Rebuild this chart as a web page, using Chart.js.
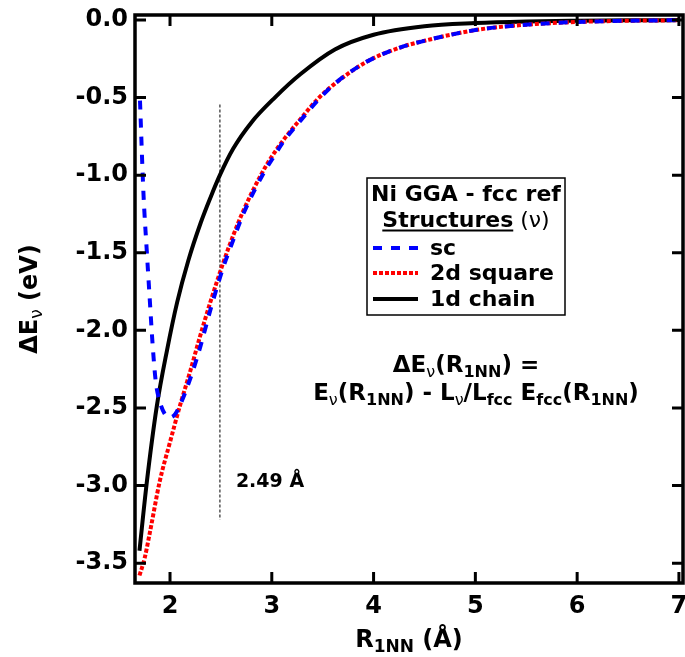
<!DOCTYPE html>
<html>
<head>
<meta charset="utf-8">
<script src="https://cdn.jsdelivr.net/npm/chart.js@4"></script>
<style>
  html, body { margin: 0; padding: 0; background: #fff; }
  canvas { display: block; }
</style>
</head>
<body>
<canvas id="myChart" width="685" height="657"></canvas>
<script>
// nearest-neighbour distance (Å) and energy difference (eV) per structure
const rSc = [1.705, 1.74, 1.77, 1.80, 1.83, 1.86, 1.90, 1.95, 2.00, 2.05, 2.10, 2.21, 2.30, 2.40, 2.52, 2.62, 2.72, 2.90, 3.01, 3.13, 3.28, 3.45, 3.62, 3.93, 4.25, 4.59, 5.0, 5.24, 5.6, 6.0, 6.5, 7.0];
const eSc = [-0.52, -1.13, -1.47, -1.79, -2.10, -2.33, -2.46, -2.54, -2.56, -2.54, -2.48, -2.29, -2.10, -1.86, -1.60, -1.42, -1.25, -1.01, -0.89, -0.77, -0.65, -0.52, -0.41, -0.27, -0.18, -0.12, -0.065, -0.045, -0.026, -0.013, -0.005, -0.002];

const rSquare = [1.70, 1.75, 1.80, 1.90, 2.00, 2.10, 2.20, 2.29, 2.40, 2.52, 2.62, 2.72, 2.90, 3.01, 3.13, 3.28, 3.45, 3.62, 3.93, 4.25, 4.59, 5.0, 5.24, 5.6, 6.0, 6.5, 7.0];
const eSquare = [-3.58, -3.47, -3.31, -2.97, -2.72, -2.48, -2.26, -2.05, -1.81, -1.57, -1.39, -1.23, -0.99, -0.87, -0.76, -0.64, -0.51, -0.41, -0.27, -0.18, -0.12, -0.065, -0.045, -0.026, -0.013, -0.005, -0.002];

const rChain = [1.70, 1.77, 1.87, 1.97, 2.07, 2.18, 2.30, 2.40, 2.49, 2.62, 2.80, 3.03, 3.28, 3.62, 4.0, 4.5, 5.0, 5.5, 6.0, 6.5, 7.0];
const eChain = [-3.42, -2.99, -2.49, -2.13, -1.82, -1.55, -1.31, -1.14, -1.00, -0.83, -0.66, -0.50, -0.35, -0.19, -0.095, -0.04, -0.02, -0.01, -0.005, -0.002, -0.001];

// fcc equilibrium marker
const markR = [2.49, 2.49];
const markE = [-0.545, -3.22];

const xTicks = [2, 3, 4, 5, 6, 7];
const yTicks = [0, -0.5, -1.0, -1.5, -2.0, -2.5, -3.0, -3.5];

const FONT = '"DejaVu Sans", sans-serif';
const font = (size, weight) => (weight || 'bold') + ' ' + size + 'px ' + FONT;

const pts = (xs, ys) => xs.map((x, i) => ({ x: x, y: ys[i] }));

// text run with sub/superscripts; returns its width
function richText(ctx, parts, x, y, align) {
  let w = 0;
  parts.forEach(p => { ctx.font = font(p.size, p.weight); w += ctx.measureText(p.t).width; });
  let cx = align === 'center' ? x - w / 2 : x;
  ctx.textAlign = 'left';
  ctx.textBaseline = 'alphabetic';
  ctx.fillStyle = '#000';
  parts.forEach(p => {
    ctx.font = font(p.size, p.weight);
    ctx.fillText(p.t, cx, y + (p.dy || 0));
    cx += ctx.measureText(p.t).width;
  });
  return w;
}

const B = (t, s) => ({ t: t, size: s || 23 });
const S = (t, s) => ({ t: t, size: s || 16, dy: 5 });
const SN = (t, s) => ({ t: t, size: s || 16, dy: 5, weight: 'normal' });

const legendItems = [
  { label: 'sc', color: '#0000ff', dash: [9, 9], y: 248, base: 255 },
  { label: '2d square', color: '#ff0000', dash: [4, 2], y: 273, base: 280 },
  { label: '1d chain', color: '#000000', dash: [], y: 299, base: 306 }
];

const decorations = {
  id: 'decorations',
  afterDatasetsDraw(chart) {
    const ctx = chart.ctx;
    const a = chart.chartArea;
    const sx = chart.scales.x, sy = chart.scales.y;
    ctx.save();

    // frame
    ctx.strokeStyle = '#000';
    ctx.lineWidth = 3.5;
    ctx.strokeRect(a.left, a.top, a.right - a.left, a.bottom - a.top);

    // inward ticks on all four sides
    ctx.lineWidth = 3;
    const tl = 11;
    ctx.beginPath();
    xTicks.forEach(v => {
      const px = sx.getPixelForValue(v);
      ctx.moveTo(px, a.bottom); ctx.lineTo(px, a.bottom - tl);
      ctx.moveTo(px, a.top); ctx.lineTo(px, a.top + tl);
    });
    yTicks.forEach(v => {
      const py = sy.getPixelForValue(v);
      ctx.moveTo(a.left, py); ctx.lineTo(a.left + tl, py);
      ctx.moveTo(a.right, py); ctx.lineTo(a.right - tl, py);
    });
    ctx.stroke();

    // legend box
    ctx.lineWidth = 1.5;
    ctx.strokeRect(367, 178, 198, 137);
    richText(ctx, [B('Ni GGA - fcc ref', 22)], 466, 201, 'center');
    ctx.font = font(22);
    const wS = ctx.measureText('Structures').width;
    const wAll = richText(ctx, [B('Structures', 22), { t: ' (ν)', size: 22, weight: 'normal' }], 466, 227, 'center');
    const ux = 466 - wAll / 2;
    ctx.lineWidth = 2;
    ctx.beginPath();
    ctx.moveTo(ux, 230.5); ctx.lineTo(ux + wS, 230.5);
    ctx.stroke();
    legendItems.forEach(it => {
      ctx.strokeStyle = it.color;
      ctx.lineWidth = 4;
      ctx.setLineDash(it.dash);
      ctx.beginPath();
      ctx.moveTo(373, it.y); ctx.lineTo(418, it.y);
      ctx.stroke();
      ctx.setLineDash([]);
      richText(ctx, [B(it.label, 22)], 430, it.base, 'left');
    });

    // formula
    richText(ctx, [B('ΔE'), SN('ν'), B('(R'), S('1NN'), B(') =')], 466, 372, 'center');
    richText(ctx, [B('E'), SN('ν'), B('(R'), S('1NN'), B(') - L'), SN('ν'), B('/L'), S('fcc'),
                   B(' E'), S('fcc'), B('(R'), S('1NN'), B(')')], 476, 400, 'center');

    // marker label
    richText(ctx, [B('2.49 Å', 19)], 270, 487, 'center');

    // axis titles
    richText(ctx, [B('R', 24), S('1NN', 17), B(' (Å)', 24)], (a.left + a.right) / 2, 647, 'center');
    ctx.translate(37, (a.top + a.bottom) / 2);
    ctx.rotate(-Math.PI / 2);
    richText(ctx, [B('ΔE', 24), SN('ν', 17), B(' (eV)', 24)], 0, 0, 'center');

    ctx.restore();
  }
};

const ctx = document.getElementById('myChart');

new Chart(ctx, {
  type: 'line',
  data: {
    datasets: [
      {
        label: 'sc',
        data: pts(rSc, eSc),
        borderColor: '#0000ff',
        borderWidth: 4,
        borderDash: [9, 9],
        cubicInterpolationMode: 'monotone'
      },
      {
        label: '2d square',
        data: pts(rSquare, eSquare),
        borderColor: '#ff0000',
        borderWidth: 4,
        borderDash: [4, 2],
        cubicInterpolationMode: 'monotone'
      },
      {
        label: '1d chain',
        data: pts(rChain, eChain),
        borderColor: '#000000',
        borderWidth: 4,
        cubicInterpolationMode: 'monotone'
      },
      {
        label: 'fcc',
        data: pts(markR, markE),
        borderColor: '#555555',
        borderWidth: 1.5,
        borderDash: [3, 2]
      }
    ]
  },
  options: {
    responsive: false,
    animation: false,
    events: [],
    elements: { point: { radius: 0 } },
    layout: { padding: { left: 0, top: 15, right: 2, bottom: 0 } },
    plugins: { legend: { display: false }, tooltip: { enabled: false } },
    scales: {
      x: {
        type: 'linear',
        min: 1.656,
        max: 7.04,
        grid: { display: false, drawTicks: false },
        border: { display: false },
        ticks: {
          stepSize: 1,
          includeBounds: false,
          padding: 9,
          color: '#000',
          font: { family: FONT, size: 24, weight: 'bold' },
          callback: v => String(v)
        },
        afterFit(scale) {
          scale.height = 74;
          scale.paddingLeft = 0;
          scale.paddingRight = 0;
        }
      },
      y: {
        type: 'linear',
        min: -3.628,
        max: 0.032,
        grid: { display: false, drawTicks: false },
        border: { display: false },
        ticks: {
          stepSize: 0.5,
          includeBounds: false,
          padding: 7,
          color: '#000',
          font: { family: FONT, size: 24, weight: 'bold' },
          callback: v => v.toFixed(1)
        },
        afterFit(scale) {
          scale.width = 135;
          scale.paddingTop = 0;
          scale.paddingBottom = 0;
        }
      }
    }
  },
  plugins: [decorations]
});
</script>
</body>
</html>
